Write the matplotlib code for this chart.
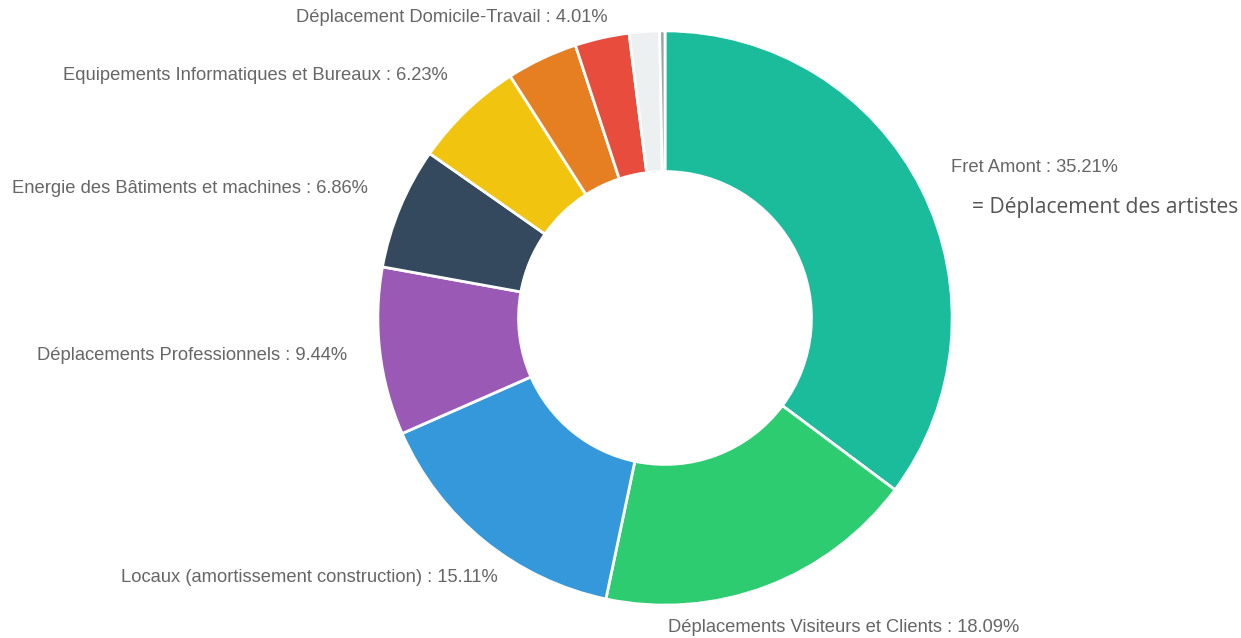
import matplotlib
matplotlib.use("Agg")
import matplotlib.pyplot as plt

# donnees
categories = ["Fret Amont", "Déplacements Visiteurs et Clients",
              "Locaux (amortissement construction)", "Déplacements Professionnels",
              "Energie des Bâtiments et machines", "Equipements Informatiques et Bureaux",
              "Déplacement Domicile-Travail", "Autre 1", "Autre 2", "Autre 3"]
valeurs = [35.21, 18.09, 15.11, 9.44, 6.86, 6.23, 4.01, 3.05, 1.70, 0.30]
couleurs = ["#1abc9c", "#2ecc71", "#3498db", "#9b59b6", "#34495e",
            "#f1c40f", "#e67e22", "#e74c3c", "#ecf0f1", "#95a5a6"]
etiquetes = [True, True, True, True, True, True, True, False, False, False]

# position des etiquettes (pixels) et alignement
pos_etiq = [(951, 168, "left"), (668, 628, "left"), (498, 578, "right"),
            (347, 355, "right"), (368, 189, "right"), (448, 75, "right"),
            (608, 17, "right")]

W, H = 1241, 638
fig = plt.figure(figsize=(W / 100, H / 100), dpi=100)

cx, cy, r = 665, 318, 290
ax = fig.add_axes([(cx - r) / W, (H - cy - r) / H, 2 * r / W, 2 * r / H])
ax.pie(valeurs, colors=couleurs, startangle=90, counterclock=False, radius=1,
       wedgeprops=dict(width=0.49, edgecolor="white", linewidth=2))
ax.set_xlim(-1.01, 1.01)
ax.set_ylim(-1.01, 1.01)
ax.set_aspect("equal")
ax.axis("off")

for i, (x, y, ha) in enumerate(pos_etiq):
    if etiquetes[i]:
        fig.text(x / W, 1 - y / H, "%s : %.2f%%" % (categories[i], valeurs[i]),
                 ha=ha, va="center", fontsize=13.2, color="#666666",
                 family="Liberation Sans")

fig.text(972 / W, 1 - 207 / H, "= Déplacement des artistes", ha="left",
         va="center", fontsize=15.2, color="#555555", family="Open Sans")

plt.savefig("out.png", dpi=100)
